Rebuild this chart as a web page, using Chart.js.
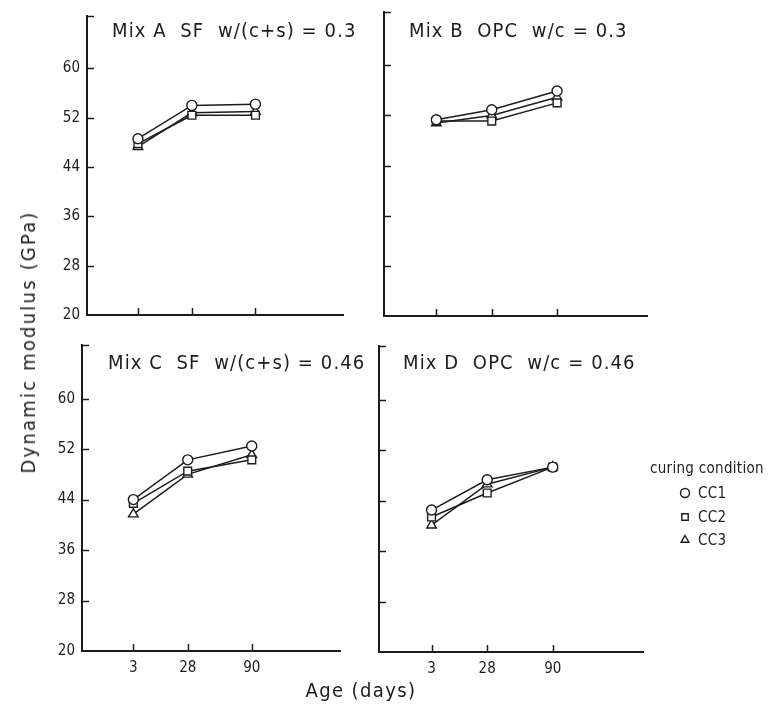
<!DOCTYPE html>
<html>
<head>
<meta charset="utf-8">
<script src="https://cdn.jsdelivr.net/npm/chart.js@4.4.1/dist/chart.umd.min.js"></script>
<style>
    body { margin: 0; background: #fff; }
    #wrap { position: relative; width: 769px; height: 704px; overflow: hidden; }
    #wrap canvas { position: absolute; left: 0; top: 0; }
    .txt {
        position: absolute;
        white-space: pre;
        color: #1c1c1c;
        font-family: 'Liberation Sans Narrow', 'DejaVu Sans Condensed', 'DejaVu Sans', sans-serif;
        line-height: 1;
    }
    .ttl { font-size: 20px; letter-spacing: 1.1px; }
    .ax { font-size: 20px; letter-spacing: 1.4px; }
    .lg { font-size: 15px; letter-spacing: 0.3px; }
</style>
</head>
<body>
<div id="wrap">
    <canvas id="mixA" width="769" height="704"></canvas>
    <canvas id="mixB" width="769" height="704"></canvas>
    <canvas id="mixC" width="769" height="704"></canvas>
    <canvas id="mixD" width="769" height="704"></canvas>

    <div class="txt ttl" style="left:112px; top:20px">Mix A  SF  w/(c+s) = 0.3</div>
    <div class="txt ttl" style="left:409px; top:20px">Mix B  OPC  w/c = 0.3</div>
    <div class="txt ttl" style="left:108px; top:352px">Mix C  SF  w/(c+s) = 0.46</div>
    <div class="txt ttl" style="left:403px; top:352px">Mix D  OPC  w/c = 0.46</div>

    <div class="txt ax" style="left:28px; top:342px; letter-spacing:2.2px; transform: translate(-50%, -50%) rotate(-90deg)">Dynamic modulus (GPa)</div>
    <div class="txt ax" style="left:361px; top:690px; transform: translate(-50%, -50%)">Age (days)</div>

    <div class="txt lg" style="left:650px; top:461px">curing condition</div>
    <div class="txt lg" style="left:698px; top:486px">CC1</div>
    <div class="txt lg" style="left:698px; top:510px">CC2</div>
    <div class="txt lg" style="left:698px; top:533px">CC3</div>
</div>

<script>
// ages (days) and tick values
const ages = [3, 28, 90]
const yTicks = [20, 28, 36, 44, 52, 60]
const seriesNames = ['CC1', 'CC2', 'CC3']

// dynamic modulus (GPa), one array per curing condition
const mixA_cc1 = [48.6, 54.0, 54.2]
const mixA_cc2 = [47.8, 52.4, 52.4]
const mixA_cc3 = [47.3, 52.8, 53.0]

const mixB_cc1 = [51.3, 52.9, 55.9]
const mixB_cc2 = [51.1, 51.1, 54.0]
const mixB_cc3 = [50.8, 52.0, 54.9]

const mixC_cc1 = [44.0, 50.3, 52.5]
const mixC_cc2 = [43.4, 48.5, 50.3]
const mixC_cc3 = [41.7, 48.0, 51.1]

const mixD_cc1 = [42.5, 47.3, 49.3]
const mixD_cc2 = [41.4, 45.2, 49.3]
const mixD_cc3 = [40.1, 46.6, 49.3]

/////////////////////////////////////////////////////////
const INK = '#1c1c1c'
const FONT = "'Liberation Sans Narrow', 'DejaVu Sans Condensed', 'DejaVu Sans', sans-serif"
const YAXIS_W = 40   // room for the y tick labels
const XAXIS_H = 30   // room for the x tick labels
const styles = [
    { pointStyle: 'circle', pointRadius: 5 },
    { pointStyle: 'rect', pointRadius: 5.5 },
    { pointStyle: 'triangle', pointRadius: 5.5 }
]

// the age axis of the original is roughly square-root spaced
const sq = v => Math.sign(v) * Math.sqrt(Math.abs(v))
class SqrtScale extends Chart.LinearScale {
    configure() {
        super.configure()
        this._startValue = sq(this.min)
        this._valueRange = sq(this.max) - sq(this.min)
    }
    getPixelForValue(v) {
        if (v === null || v === undefined) return NaN
        return this.getPixelForDecimal((sq(v) - this._startValue) / this._valueRange)
    }
    getValueForPixel(p) {
        const s = this._startValue + this.getDecimalForPixel(p) * this._valueRange
        return Math.sign(s) * s * s
    }
}
SqrtScale.id = 'sqrt'
SqrtScale.defaults = Chart.LinearScale.defaults
Chart.register(SqrtScale)

// ticks pointing into the plot + the little bracket on top of the y axis
const inwardTicks = {
    id: 'inwardTicks',
    afterDraw(chart) {
        const { ctx, chartArea: a, scales: { x, y } } = chart
        ctx.save()
        ctx.strokeStyle = INK
        ctx.lineWidth = 1.5
        ctx.beginPath()
        yTicks.slice(1).forEach(v => {
            const py = Math.round(y.getPixelForValue(v)) + 0.5
            ctx.moveTo(a.left, py)
            ctx.lineTo(a.left + 7, py)
        })
        ctx.moveTo(a.left, a.top + 0.5)
        ctx.lineTo(a.left + 7, a.top + 0.5)
        ages.forEach(v => {
            const px = Math.round(x.getPixelForValue(v)) + 0.5
            ctx.moveTo(px, a.bottom)
            ctx.lineTo(px, a.bottom - 7)
        })
        ctx.stroke()
        ctx.restore()
    }
}

// legend symbols, only on panel D
const legendMarks = {
    id: 'legendMarks',
    afterDraw(chart, args, opts) {
        if (!opts.show) return
        const ctx = chart.ctx
        ctx.save()
        ctx.strokeStyle = INK
        ctx.fillStyle = '#fff'
        ctx.lineWidth = 1.4
        const rows = [493, 517, 540]
        styles.forEach((s, i) => {
            Chart.helpers.drawPoint(ctx, { pointStyle: s.pointStyle, radius: 4.5, rotation: 0, borderWidth: 1.4 }, 685, rows[i])
        })
        ctx.restore()
    }
}

function makePanel(id, series, area, showX, showY, legend) {
    const datasets = series.map((vals, i) => ({
        label: seriesNames[i],
        data: vals.map((v, k) => ({ x: ages[k], y: v })),
        borderColor: INK,
        borderWidth: 1.5,
        backgroundColor: '#fff',
        pointBackgroundColor: '#fff',
        pointBorderColor: INK,
        pointBorderWidth: 1.4,
        pointStyle: styles[i].pointStyle,
        pointRadius: styles[i].pointRadius,
        tension: 0
    }))

    return new Chart(document.getElementById(id), {
        type: 'line',
        data: { datasets: datasets },
        options: {
            responsive: false,
            animation: false,
            devicePixelRatio: 1,
            events: [],
            layout: {
                padding: {
                    left: area.left - YAXIS_W,
                    top: area.top,
                    right: 769 - area.right,
                    bottom: 704 - area.bottom - XAXIS_H
                }
            },
            plugins: {
                legend: { display: false },
                tooltip: { enabled: false },
                legendMarks: { show: legend }
            },
            scales: {
                x: {
                    type: 'sqrt',
                    min: -2.66,
                    max: 233,
                    bounds: 'data',
                    afterBuildTicks: s => { s.ticks = ages.map(v => ({ value: v })) },
                    afterFit: s => { s.height = XAXIS_H },
                    grid: { display: false, drawTicks: false },
                    border: { display: true, color: INK, width: 2 },
                    ticks: {
                        display: showX,
                        padding: 8,
                        color: INK,
                        maxRotation: 0,
                        autoSkip: false,
                        font: { family: FONT, size: 15 },
                        callback: v => String(v)
                    }
                },
                y: {
                    type: 'linear',
                    min: 20,
                    max: 68.5,
                    afterBuildTicks: s => { s.ticks = yTicks.map(v => ({ value: v })) },
                    afterFit: s => { s.width = YAXIS_W },
                    grid: { display: false, drawTicks: false },
                    border: { display: true, color: INK, width: 2 },
                    ticks: {
                        display: showY,
                        padding: 7,
                        color: INK,
                        font: { family: FONT, size: 15 },
                        callback: v => String(v)
                    }
                }
            }
        },
        plugins: [inwardTicks, legendMarks]
    })
}

makePanel('mixA', [mixA_cc1, mixA_cc2, mixA_cc3], { left: 87, right: 343, top: 12, bottom: 315 }, false, true, false)
makePanel('mixB', [mixB_cc1, mixB_cc2, mixB_cc3], { left: 384, right: 647, top: 12, bottom: 316 }, false, false, false)
makePanel('mixC', [mixC_cc1, mixC_cc2, mixC_cc3], { left: 82, right: 340, top: 345, bottom: 651 }, true, true, false)
makePanel('mixD', [mixD_cc1, mixD_cc2, mixD_cc3], { left: 379, right: 643, top: 346, bottom: 652 }, true, false, true)
</script>
</body>
</html>
